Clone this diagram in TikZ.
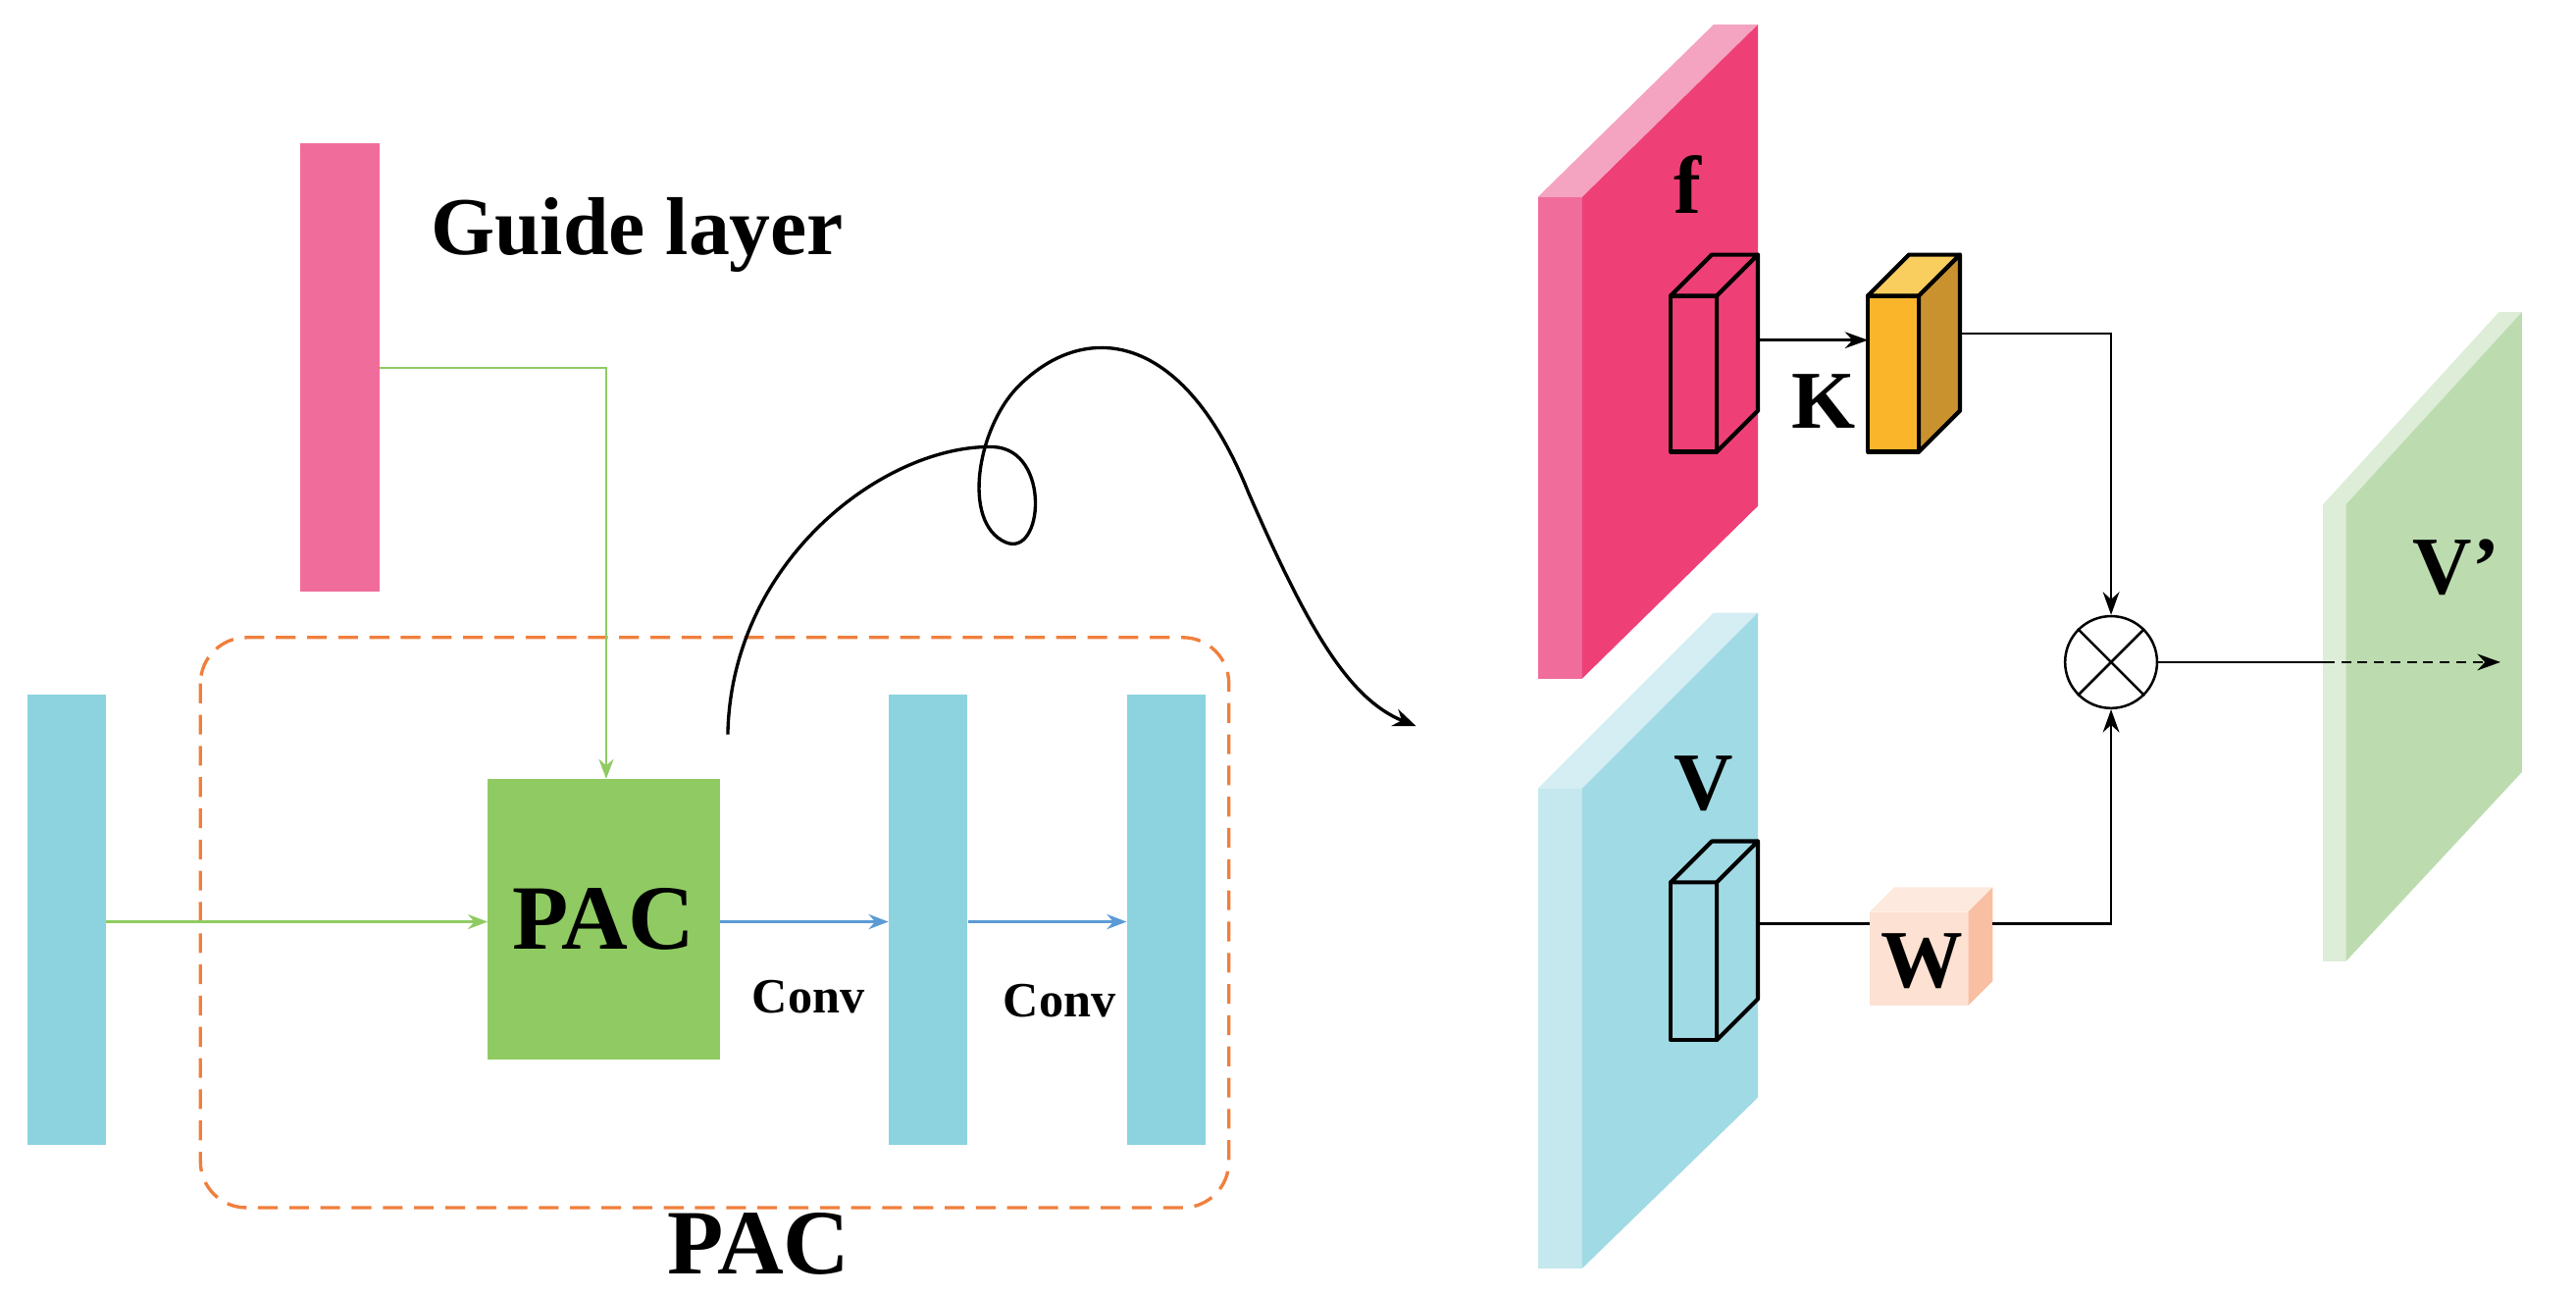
\documentclass[tikz,border=0pt]{standalone}
\usepackage{fontspec}
\setmainfont{Liberation Serif}
\usetikzlibrary{arrows.meta}
\definecolor{pinkbar}{HTML}{F06C9B}
\definecolor{pinkfront}{HTML}{EE4077}
\definecolor{pinktop}{HTML}{F4A3C0}
\definecolor{cyanbar}{HTML}{8CD3DF}
\definecolor{cyanfront}{HTML}{A0DAE4}
\definecolor{cyanside}{HTML}{C5E8EE}
\definecolor{cyantop}{HTML}{D4EEF3}
\definecolor{pacgreen}{HTML}{8FCB62}
\definecolor{orangeD}{HTML}{F07F3C}
\definecolor{blueA}{HTML}{5B9BD5}
\definecolor{greenL}{HTML}{8FCB62}
\definecolor{gfront}{HTML}{BCDCB0}
\definecolor{gside}{HTML}{DDEDD7}
\definecolor{kfront}{HTML}{FBB52B}
\definecolor{ktop}{HTML}{F9CD5E}
\definecolor{kside}{HTML}{C9922E}
\definecolor{wfront}{HTML}{FDE1D3}
\definecolor{wtop}{HTML}{FEE9DE}
\definecolor{wside}{HTML}{F8BFA2}
\newcommand{\fs}[1]{\fontsize{#1}{#1}\selectfont\bfseries}
\begin{document}
\begin{tikzpicture}[x=1pt,y=-1pt,
  bar/.style={draw=none,minimum width=48pt,inner sep=0pt},
  lab/.style={inner sep=0pt},
  garrow/.style={draw=greenL,line width=1.5pt,-{Stealth[length=12pt,width=9pt]}},
  barrow/.style={draw=blueA,line width=2pt,-{Stealth[length=12pt,width=9pt]}},
  karrow/.style={draw=black,line width=1.6pt,-{Stealth[length=14pt,width=10pt]}},
  kline/.style={draw=black,line width=1.6pt}]
\useasboundingbox (0,0) rectangle (1568,788);
% left part
\node[bar,fill=pinkbar,minimum height=273pt] (guide) at (207,223.5) {};
\node[lab,anchor=west] (gl) at (262,143) {\fs{50}Guide layer};
\node[bar,fill=cyanbar,minimum height=274pt] (in) at (40.5,560) {};
\draw[orangeD,line width=2pt,dash pattern=on 12pt off 7pt,rounded corners=28pt] (122,388) rectangle (748,735);
\node[draw=none,fill=pacgreen,minimum width=141pt,minimum height=171pt,inner sep=0pt] (pac) at (367.5,559.5) {\fs{56}PAC};
\node[bar,fill=cyanbar,minimum height=274pt] (b2) at (565,560) {};
\node[bar,fill=cyanbar,minimum height=274pt] (b3) at (710,560) {};
\draw[garrow] (guide.east |- 0,224) -- (369,224) -- (369,474);
\draw[garrow] (in.east |- 0,561) -- (pac.west |- 0,561);
\draw[barrow] (pac.east |- 0,561) -- (b2.west |- 0,561);
\draw[barrow] (b2.east |- 0,561) -- (b3.west |- 0,561);
\node[lab] (c1) at (492,607) {\fs{30}Conv};
\node[lab] (c2) at (645,609) {\fs{30}Conv};
\node[lab] (pacl) at (462,757) {\fs{56}PAC};
\coordinate (cs) at (443,447);
\coordinate (ce) at (862,442);
\draw[black,line width=2pt,-{Stealth[length=14pt,width=11pt]}] (cs) .. controls (445,340) and (540,270) .. (605,272) .. controls (640,274) and (635,340) .. (612,330) .. controls (585,318) and (595,260) .. (620,235) .. controls (660,195) and (720,200) .. (760,300) .. controls (795,380) and (820,425) .. (ce);
% f slab
\fill[pinkbar] (936,120) -- (963,120) -- (963,413) -- (936,413) -- cycle;
\fill[pinktop] (936,120) -- (1043,15) -- (1070,15) -- (963,120) -- cycle;
\fill[pinkfront] (963,120) -- (1070,15) -- (1070,308) -- (963,413) -- cycle;
\node[lab] (f) at (1027,112) {\fs{50}f};
% small f cube
\draw[line width=2.5pt,fill=pinkfront,line join=round] (1017,180) rectangle (1045,275);
\draw[line width=2.5pt,fill=pinkfront,line join=round] (1017,180) -- (1042,155) -- (1070,155) -- (1045,180) -- cycle;
\draw[line width=2.5pt,fill=pinkfront,line join=round] (1045,180) -- (1070,155) -- (1070,250) -- (1045,275) -- cycle;
\coordinate (fc) at (1070,207);
% K cube
\draw[line width=2.5pt,fill=kfront,line join=round] (1137,180) rectangle (1168,275);
\draw[line width=2.5pt,fill=ktop,line join=round] (1137,180) -- (1162,155) -- (1193,155) -- (1168,180) -- cycle;
\draw[line width=2.5pt,fill=kside,line join=round] (1168,180) -- (1193,155) -- (1193,250) -- (1168,275) -- cycle;
\coordinate (kin) at (1137,207);
\coordinate (kout) at (1193,203);
\node[lab] (K) at (1110,244) {\fs{50}K};
\draw[karrow] (fc) -- (kin);
% circle
\node[draw,circle,line width=1.5pt,minimum size=56pt,inner sep=0pt,fill=white] (mul) at (1285,403) {};
\draw[line width=1.5pt] (mul.north west) -- (mul.south east) (mul.north east) -- (mul.south west);
\draw[karrow] (kout) -- (1285,203) -- (mul.north);
% V slab
\fill[cyanside] (936,480) -- (963,480) -- (963,772) -- (936,772) -- cycle;
\fill[cyantop] (936,480) -- (1043,373) -- (1070,373) -- (963,480) -- cycle;
\fill[cyanfront] (963,480) -- (1070,373) -- (1070,668) -- (963,772) -- cycle;
\node[lab] (V) at (1037,477) {\fs{50}V};
\draw[line width=2.5pt,fill=cyanfront,line join=round] (1017,537) rectangle (1045,633);
\draw[line width=2.5pt,fill=cyanfront,line join=round] (1017,537) -- (1042,512) -- (1070,512) -- (1045,537) -- cycle;
\draw[line width=2.5pt,fill=cyanfront,line join=round] (1045,537) -- (1070,512) -- (1070,608) -- (1045,633) -- cycle;
\coordinate (vc) at (1070,562);
% W cube
\fill[wfront] (1138,555) rectangle (1198,612);
\fill[wtop] (1138,555) -- (1153,540) -- (1213,540) -- (1198,555) -- cycle;
\fill[wside] (1198,555) -- (1213,540) -- (1213,597) -- (1198,612) -- cycle;
\node[lab] (W) at (1170,585) {\fs{50}W};
\coordinate (win) at (1138,562);
\coordinate (wout) at (1213,562);
\draw[kline] (vc) -- (win);
\draw[karrow] (wout) -- (1285,562) -- (mul.south);
% V' slab
\fill[gside] (1414,307) -- (1428,307) -- (1428,585) -- (1414,585) -- cycle;
\fill[gside] (1414,307) -- (1521,190) -- (1535,190) -- (1428,307) -- cycle;
\fill[gfront] (1428,307) -- (1535,190) -- (1535,470) -- (1428,585) -- cycle;
\node[lab] (Vp) at (1495,345) {\fs{50}V’};
\coordinate (mid) at (1415,403);
\coordinate (oend) at (1522,403);
\draw[kline] (mul.east) -- (mid);
\draw[karrow,dash pattern=on 6pt off 4pt] (mid) -- (oend);
\end{tikzpicture}
\end{document}
